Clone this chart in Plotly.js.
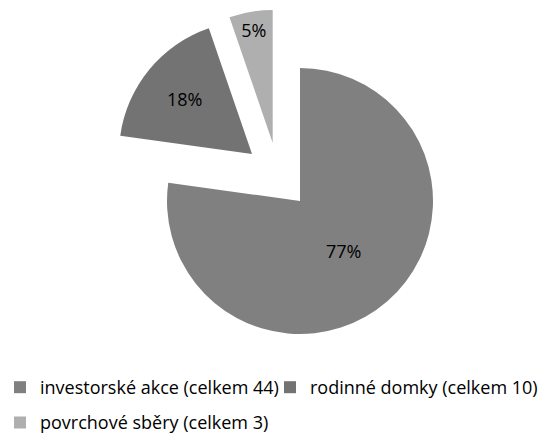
<!DOCTYPE html>
<html>
<head>
<meta charset="utf-8">
<script src="https://cdn.plot.ly/plotly-3.0.1.min.js"></script>
<style>html,body{margin:0;padding:0;background:#fff;}#chart{width:548px;height:433px;}</style>
</head>
<body>
<div id="chart"></div>
<script>
// ---- data ----
const labels = ["investorské akce (celkem 44)", "rodinné domky (celkem 10)", "povrchové sběry (celkem 3)"];
const values = [44, 10, 3];

// ---- style ----
const colors = ["#808080", "#737373", "#afafaf"];
const W = 548, H = 433, R = 133;
// centre of each (exploded) slice's pie, in pixels
const centres = [[300, 201], [252, 154], [272.7, 143]];
const FONT = "Open Sans, sans-serif";
// which legend row each label goes in (Excel wraps after two entries)
const legendRows = [[0, 1], [2]];

function domainFor(c) {
  return {
    x: [(c[0] - R) / W, (c[0] + R) / W],
    y: [(H - c[1] - R) / H, (H - c[1] + R) / H]
  };
}

// invisible legend-only traces (one per legend row)
const legendTraces = legendRows.map(function (idx, r) {
  return {
    type: "pie",
    labels: idx.map(function (i) { return labels[i]; }),
    values: idx.map(function (i) { return values[i]; }),
    sort: false, direction: "clockwise", rotation: 0,
    marker: {colors: idx.map(function (i) { return colors[i]; }), line: {width: 0}},
    textinfo: "none", hoverinfo: "skip",
    domain: {x: [0, 0.0001], y: [0, 0.0001]},
    showlegend: true,
    legend: r === 0 ? "legend" : "legend2"
  };
});

// one pie trace per slice, showing only that slice, at its exploded position
const sliceTraces = labels.map(function (_, i) {
  return {
    type: "pie", labels: labels, values: values, sort: false,
    direction: "clockwise", rotation: 0,
    marker: {
      colors: colors.map(function (c, j) { return j === i ? c : "rgba(0,0,0,0)"; }),
      line: {width: 0}
    },
    texttemplate: labels.map(function (_, j) { return j === i ? "%{percent:.0%}" : ""; }),
    textposition: "inside",
    insidetextorientation: "horizontal",
    textfont: {family: FONT, size: 18, color: "#000"},
    hoverinfo: "skip",
    domain: domainFor(centres[i]),
    showlegend: false
  };
});

const legendStyle = {
  orientation: "h",
  x: 0, xanchor: "left",
  yanchor: "top",
  entrywidth: 225,
  entrywidthmode: "pixels",
  font: {family: FONT, size: 18, color: "#000"},
  traceorder: "normal"
};

const layout = {
  width: W, height: H,
  margin: {l: 0, r: 0, t: 0, b: 0, autoexpand: false},
  paper_bgcolor: "#fff",
  showlegend: true,
  uniformtext: {minsize: 18, mode: "show"},
  legend: Object.assign({}, legendStyle, {y: 0.1478}),
  legend2: Object.assign({}, legendStyle, {y: 0.0665})
};

Plotly.newPlot("chart", legendTraces.concat(sliceTraces), layout, {displayModeBar: false, staticPlot: true});
</script>
</body>
</html>
